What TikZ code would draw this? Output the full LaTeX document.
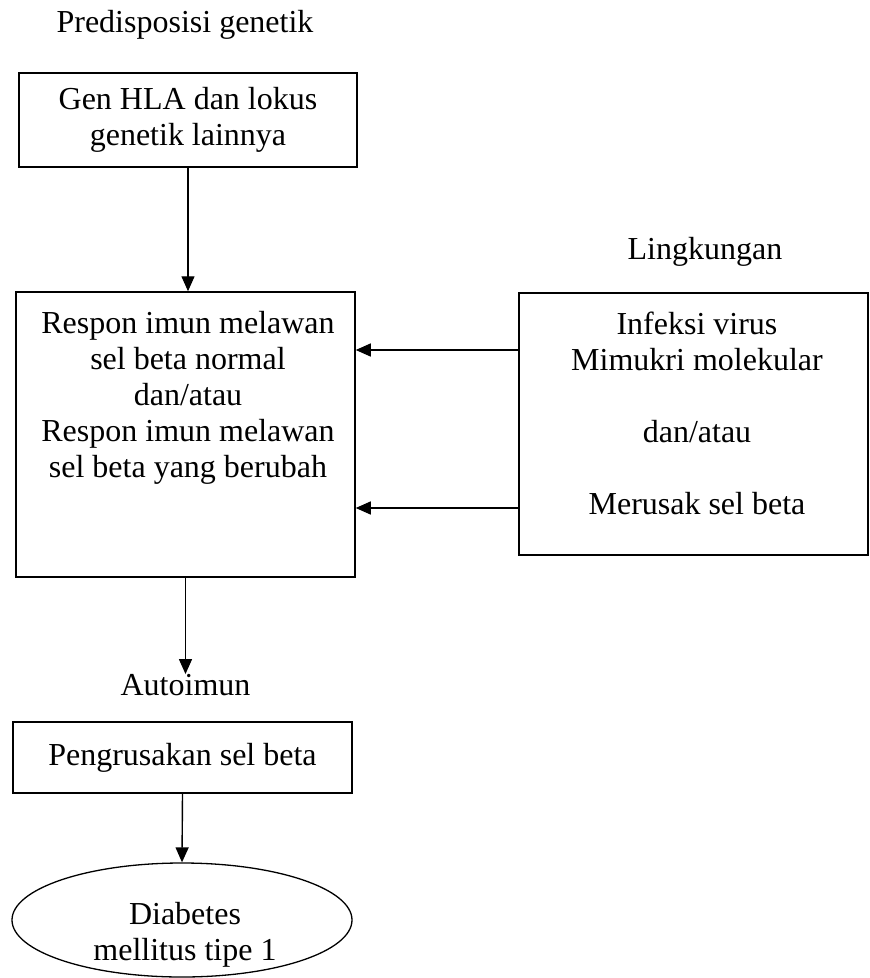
\documentclass[tikz,border=0pt]{standalone}
\usepackage{fontspec}
\setmainfont{Liberation Serif}
\usetikzlibrary{arrows.meta,shapes.geometric}

\begin{document}
\begin{tikzpicture}[x=1pt,y=-1pt,
		kotak/.style={draw,line width=1.5pt,inner sep=0pt},
		teks/.style={font=\fontsize{32}{36}\selectfont,align=center,inner sep=0pt},
		panah/.style={line width=1.4pt,-{Triangle[length=15pt,width=13pt]}}]
		\useasboundingbox (0,0) rectangle (870,978);
		%judul
		\node[teks] (gen) at (185,25) {Predisposisi genetik};
		\node[teks] (ling) at (705,252) {Lingkungan};
		\node[teks] (auto) at (185.5,685) {Autoimun};
		%kotak genetik
		\node[kotak,teks,minimum width=338pt,minimum height=94pt] (hla) at (188,120) {Gen HLA dan lokus\\genetik lainnya};
		%kotak respon imun
		\node[kotak,minimum width=339pt,minimum height=285pt] (respon) at (185.5,434.5) {};
		\node[teks,anchor=north] (responteks) at (188,311) {Respon imun melawan\\sel beta normal\\dan/atau\\Respon imun melawan\\sel beta yang berubah};
		%kotak lingkungan
		\node[kotak,minimum width=349pt,minimum height=262pt] (virus) at (693.5,424) {};
		\node[teks,anchor=north] (virusteks) at (697,312) {Infeksi virus\\Mimukri molekular\\[36pt]dan/atau\\[36pt]Merusak sel beta};
		%kotak autoimun
		\node[kotak,teks,minimum width=339pt,minimum height=71pt] (rusak) at (182.5,757.5) {Pengrusakan sel beta};
		%diabetes
		\node[draw,ellipse,line width=1.3pt,inner sep=0pt,minimum width=340pt,minimum height=114pt] (dm) at (182,920) {};
		\node[teks] (dmteks) at (185,935) {Diabetes\\mellitus tipe 1};
		%panah
		\draw[panah] (hla.south) -- (hla.south |- respon.north);
		\draw[panah] ([yshift=74pt]virus.west) -- ([yshift=74pt]virus.west -| respon.east);
		\draw[panah] ([yshift=-84pt]virus.west) -- ([yshift=-84pt]virus.west -| respon.east);
		\draw[panah] (respon.south) -- (auto.north);
		\draw[panah] (rusak.south) -- (dm.north);
		\end{tikzpicture}
\end{document}
